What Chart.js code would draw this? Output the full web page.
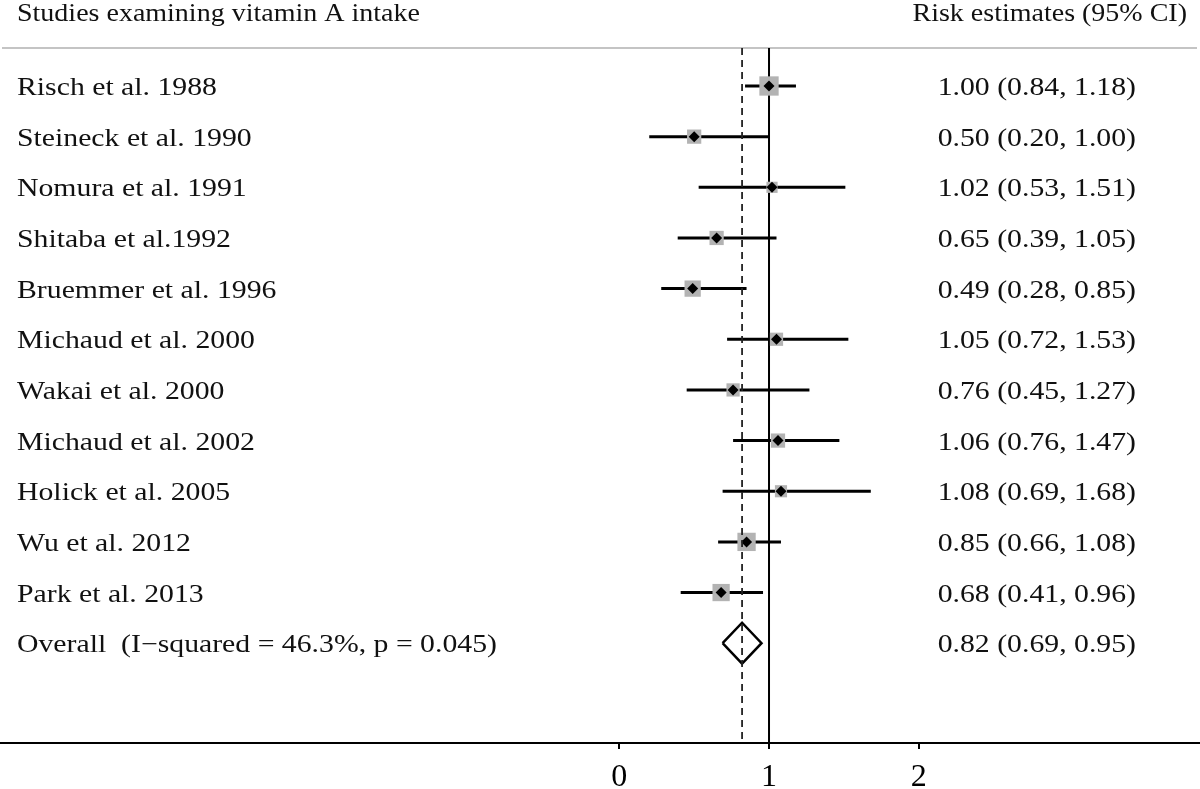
<!DOCTYPE html>
<html>
<head>
<meta charset="utf-8">
<script src="https://cdn.jsdelivr.net/npm/chart.js@4"></script>
<style>
  html, body { margin: 0; padding: 0; background: #fff; }
  #wrap { width: 1200px; height: 789px; }
</style>
</head>
<body>
<div id="wrap"><canvas id="forest"></canvas></div>
<script>
const studies = ['Risch et al. 1988', 'Steineck et al. 1990', 'Nomura et al. 1991', 'Shitaba et al.1992',
  'Bruemmer et al. 1996', 'Michaud et al. 2000', 'Wakai et al. 2000', 'Michaud et al. 2002',
  'Holick et al. 2005', 'Wu et al. 2012', 'Park et al. 2013'];
const estimates = [1.00, 0.50, 1.02, 0.65, 0.49, 1.05, 0.76, 1.06, 1.08, 0.85, 0.68];
const lower = [0.84, 0.20, 0.53, 0.39, 0.28, 0.72, 0.45, 0.76, 0.69, 0.66, 0.41];
const upper = [1.18, 1.00, 1.51, 1.05, 0.85, 1.53, 1.27, 1.47, 1.68, 1.08, 0.96];
const weights = [14.9, 8.1, 5.0, 8.1, 10.6, 7.0, 7.0, 8.1, 5.9, 13.4, 11.9]; // % weight
const overallLabel = 'Overall  (I\u2212squared = 46.3%, p = 0.045)';
const overallEst = 0.82, overallLo = 0.69, overallHi = 0.95;
const xTicks = [0, 1, 2];

const leftHeader = 'Studies examining vitamin A intake';
const rightHeader = 'Risk estimates (95% CI)';

const Y_MIN = -0.75, Y_MAX = 12.97;
const overallRow = studies.length;
const fmt = (e, l, h) => `${e.toFixed(2)} (${l.toFixed(2)}, ${h.toFixed(2)})`;

const ciSets = studies.map((s, i) => ({
  data: [{ x: lower[i], y: i }, { x: upper[i], y: i }],
  showLine: true, borderColor: '#000', borderWidth: 3, pointRadius: 0, order: 3
}));

const boxes = {
  data: estimates.map((e, i) => ({ x: e, y: i })),
  pointStyle: 'rect', backgroundColor: '#b3b3b3', borderWidth: 0,
  pointRadius: weights.map(w => 5 * Math.sqrt(w) / Math.SQRT2), order: 2
};

const dots = {
  data: estimates.map((e, i) => ({ x: e, y: i })),
  pointStyle: 'rectRot', backgroundColor: '#000', borderWidth: 0, pointRadius: 5.5, order: 1
};

const dh = 0.405;
const diamond = {
  data: [{ x: overallLo, y: overallRow }, { x: overallEst, y: overallRow - dh }, { x: overallHi, y: overallRow },
    { x: overallEst, y: overallRow + dh }, { x: overallLo, y: overallRow }],
  showLine: true, borderColor: '#000', borderWidth: 2.5, pointRadius: 0, fill: false,
  borderJoinStyle: 'miter', order: 1
};

const nullLine = {
  data: [{ x: 1, y: Y_MIN }, { x: 1, y: Y_MAX }],
  showLine: true, borderColor: '#000', borderWidth: 2, pointRadius: 0, order: 4
};
const pooledLine = {
  data: [{ x: overallEst, y: Y_MIN }, { x: overallEst, y: Y_MAX }],
  showLine: true, borderColor: '#222', borderWidth: 1.8, borderDash: [7, 5], pointRadius: 0, order: 0
};

function txt(ctx, s, x, y, align, sx) {
  ctx.save();
  ctx.translate(x, y);
  ctx.scale(sx, 1);
  ctx.textAlign = align;
  ctx.fillText(s, 0, 0);
  ctx.restore();
}

const forestText = {
  id: 'forestText',
  beforeDatasetsDraw(chart) {
    const { ctx, chartArea } = chart;
    ctx.save();
    ctx.strokeStyle = '#c4c4c4';
    ctx.lineWidth = 2;
    ctx.beginPath();
    ctx.moveTo(2, chartArea.top);
    ctx.lineTo(1197, chartArea.top);
    ctx.stroke();
    ctx.restore();
  },
  afterDraw(chart) {
    const { ctx, chartArea } = chart;
    const y = chart.scales.y;
    ctx.save();
    ctx.fillStyle = '#111';
    ctx.font = '25px "Liberation Serif", "Times New Roman", serif';
    ctx.textBaseline = 'alphabetic';
    txt(ctx, leftHeader, 17, chartArea.top - 27, 'left', 1.12);
    txt(ctx, rightHeader, 1187, chartArea.top - 27, 'right', 1.12);
    studies.forEach((s, i) => {
      const py = y.getPixelForValue(i) + 9;
      txt(ctx, s, 17, py, 'left', 1.19);
      txt(ctx, fmt(estimates[i], lower[i], upper[i]), 1136, py, 'right', 1.19);
    });
    const oy = y.getPixelForValue(overallRow) + 9;
    txt(ctx, overallLabel, 17, oy, 'left', 1.19);
    txt(ctx, fmt(overallEst, overallLo, overallHi), 1136, oy, 'right', 1.19);
    ctx.restore();
  }
};

new Chart(document.getElementById('forest'), {
  type: 'scatter',
  data: { datasets: [...ciSets, boxes, dots, diamond, nullLine, pooledLine] },
  options: {
    responsive: true, maintainAspectRatio: false, animation: false,
    layout: { autoPadding: false, padding: { top: 48, left: 0, right: 0, bottom: 0 } },
    plugins: { legend: { display: false }, tooltip: { enabled: false } },
    events: [],
    scales: {
      x: {
        type: 'linear', min: -4.137, max: 3.879,
        afterBuildTicks: s => { s.ticks = xTicks.map(v => ({ value: v })); },
        afterFit: s => { s.height = 46; },
        ticks: { color: '#000', padding: 13, font: { family: '"Liberation Serif", serif', size: 32, lineHeight: 1 }, callback: v => String(v) },
        grid: { drawOnChartArea: false, drawTicks: true, tickLength: 6, color: '#000', lineWidth: 2 },
        border: { display: true, color: '#000', width: 2 }
      },
      y: { type: 'linear', display: false, reverse: true, min: Y_MIN, max: Y_MAX }
    }
  },
  plugins: [forestText]
});
</script>
</body>
</html>
